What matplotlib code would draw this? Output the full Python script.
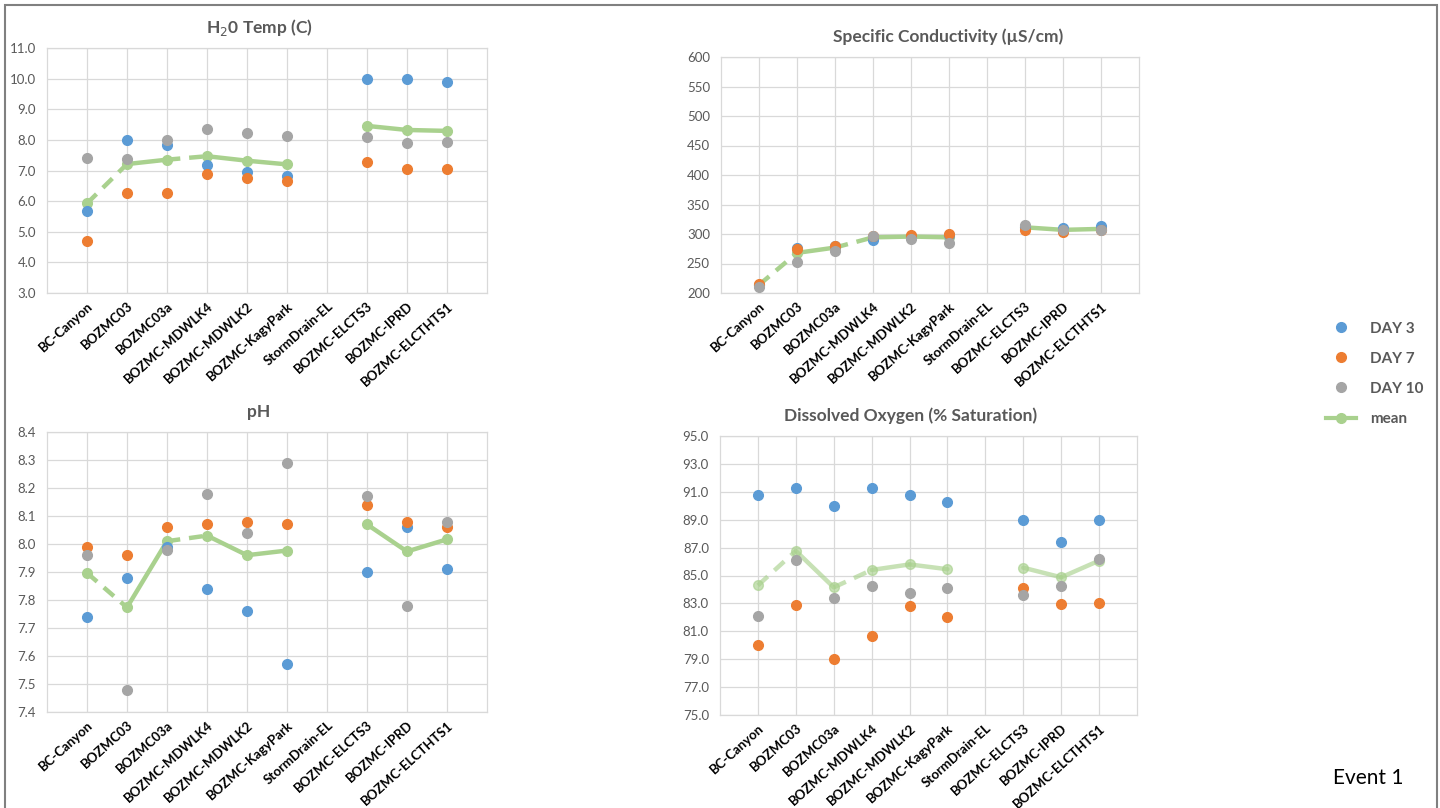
import numpy as np
import matplotlib
matplotlib.use("Agg")
import matplotlib.pyplot as plt
from matplotlib.lines import Line2D
from matplotlib.patches import Rectangle

plt.rcParams['font.family'] = ['Lato', 'DejaVu Sans']

sites = ["BC-Canyon", "BOZMC03", "BOZMC03a", "BOZMC-MDWLK4", "BOZMC-MDWLK2",
         "BOZMC-KagyPark", "StormDrain-EL", "BOZMC-ELCTS3", "BOZMC-IPRD",
         "BOZMC-ELCTHTS1"]
nan = np.nan

# water temperature (C)
temp_d3 = [5.68, 8.01, 7.82, 7.18, 6.96, 6.82, nan, 10.0, 10.0, 9.88]
temp_d7 = [4.70, 6.26, 6.26, 6.88, 6.77, 6.66, nan, 7.28, 7.06, 7.06]
temp_d10 = [7.40, 7.36, 7.98, 8.34, 8.23, 8.12, nan, 8.09, 7.91, 7.94]

# specific conductivity (uS/cm)
cond_d3 = [214, 277, 279, 290, 297, 299, nan, 312, 311, 313]
cond_d7 = [216, 275, 280, 297, 298, 300, nan, 307, 303, 307]
cond_d10 = [211, 252, 272, 296, 292, 284, nan, 315, 307, 306]

# pH
ph_d3 = [7.74, 7.88, 7.99, 7.84, 7.76, 7.57, nan, 7.90, 8.06, 7.91]
ph_d7 = [7.99, 7.96, 8.06, 8.07, 8.08, 8.07, nan, 8.14, 8.08, 8.06]
ph_d10 = [7.96, 7.48, 7.98, 8.18, 8.04, 8.29, nan, 8.17, 7.78, 8.08]

# dissolved oxygen (% saturation)
do_d3 = [90.8, 91.3, 90.0, 91.3, 90.8, 90.27, nan, 88.98, 87.38, 88.98]
do_d7 = [80.0, 82.86, 79.04, 80.64, 82.81, 82.0, nan, 84.1, 82.98, 83.05]
do_d10 = [82.07, 86.13, 83.41, 84.25, 83.77, 84.08, nan, 83.6, 84.25, 86.16]

# mean segments drawn dashed (index of the left point)
dashed_segs = [0, 2]

BLUE = "#5B9BD5"
ORANGE = "#ED7D31"
GRAY = "#A5A5A5"
GREEN = "#A9D18E"
TXT = "#595959"

W, H = 1440, 808
fig = plt.figure(figsize=(W / 100, H / 100), dpi=100)


def box(l, t, r, b):
    return [l / W, 1 - b / H, (r - l) / W, (b - t) / H]


panels = [
    dict(pos=box(47, 48, 487, 293), title="H$_2$0 Temp (C)", tx=0.482,
         data=(temp_d3, temp_d7, temp_d10), yl=(3, 11), step=1.0, fmt="{:.1f}",
         alpha=1.0),
    dict(pos=box(721, 57, 1139, 293), title="Specific Conductivity (\u00b5S/cm)", tx=0.543,
         data=(cond_d3, cond_d7, cond_d10), yl=(200, 600), step=50, fmt="{:.0f}",
         alpha=1.0),
    dict(pos=box(47, 432, 487, 712), title="pH", tx=0.482,
         data=(ph_d3, ph_d7, ph_d10), yl=(7.4, 8.4), step=0.1, fmt="{:.1f}",
         alpha=1.0),
    dict(pos=box(720, 436, 1137, 715), title="Dissolved Oxygen (% Saturation)", tx=0.456,
         data=(do_d3, do_d7, do_d10), yl=(75, 95), step=2.0, fmt="{:.1f}",
         alpha=0.65),
]

x = np.arange(len(sites))

for p in panels:
    ax = fig.add_axes(p["pos"])
    d3, d7, d10 = [np.array(v, dtype=float) for v in p["data"]]
    mean = (d3 + d7 + d10) / 3

    for i in range(len(x) - 1):
        if np.isnan(mean[i]) or np.isnan(mean[i + 1]):
            continue
        ls = (0, (3, 2)) if i in dashed_segs else "-"
        ax.plot(x[i:i + 2], mean[i:i + 2], color=GREEN, lw=3.2, ls=ls,
                alpha=p["alpha"], solid_capstyle="round", zorder=2)
    ax.plot(x, mean, ls="none", marker="o", ms=7, color=GREEN,
            alpha=p["alpha"], zorder=3)
    for vals, c in ((d3, BLUE), (d7, ORANGE), (d10, GRAY)):
        ax.plot(x, vals, ls="none", marker="o", ms=7, color=c, zorder=4)

    lo, hi = p["yl"]
    ticks = np.arange(lo, hi + p["step"] / 2, p["step"])
    ax.set_ylim(lo, hi)
    ax.set_yticks(ticks)
    ax.set_yticklabels([p["fmt"].format(t) for t in ticks])
    ax.set_xlim(-1, len(sites))
    ax.set_xticks(x)
    ax.set_xticklabels(sites, rotation=42, ha="right", va="top",
                       rotation_mode="anchor", fontweight="bold",
                       fontsize=9.5, color="black")
    ax.tick_params(axis="y", length=0, pad=8, labelsize=9.5, labelcolor=TXT)
    ax.tick_params(axis="x", length=0, pad=5)
    ax.grid(True, color="#D9D9D9", lw=0.9)
    ax.set_axisbelow(True)
    for s in ax.spines.values():
        s.set_color("#D9D9D9")
        s.set_linewidth(0.9)
    ax.set_title(p["title"], x=p["tx"], pad=11, fontsize=12.5,
                 fontweight="bold", color=TXT)

handles = [
    Line2D([], [], ls="none", marker="o", ms=7, color=BLUE),
    Line2D([], [], ls="none", marker="o", ms=7, color=ORANGE),
    Line2D([], [], ls="none", marker="o", ms=7, color=GRAY),
    Line2D([], [], ls="-", lw=3, marker="o", ms=7, color=GREEN),
]
fig.legend(handles, ["DAY 3", "DAY 7", "DAY 10", "mean"], loc="upper left",
           bbox_to_anchor=(1312 / W, 1 - 308 / H), frameon=False,
           labelcolor=TXT, handlelength=2.0, handletextpad=0.9,
           labelspacing=1.05, prop={"weight": "bold", "size": 11})

fig.text(1333 / W, 1 - 778 / H, "Event 1", fontsize=15, va="center",
         ha="left", color="black")

# outer chart frame
fig.add_artist(Rectangle((5 / W, -0.01), 1432 / W, 1 - 5 / H + 0.01,
                         transform=fig.transFigure, fill=False,
                         edgecolor="#808080", lw=1.5))

fig.savefig("out.png", dpi=100)
